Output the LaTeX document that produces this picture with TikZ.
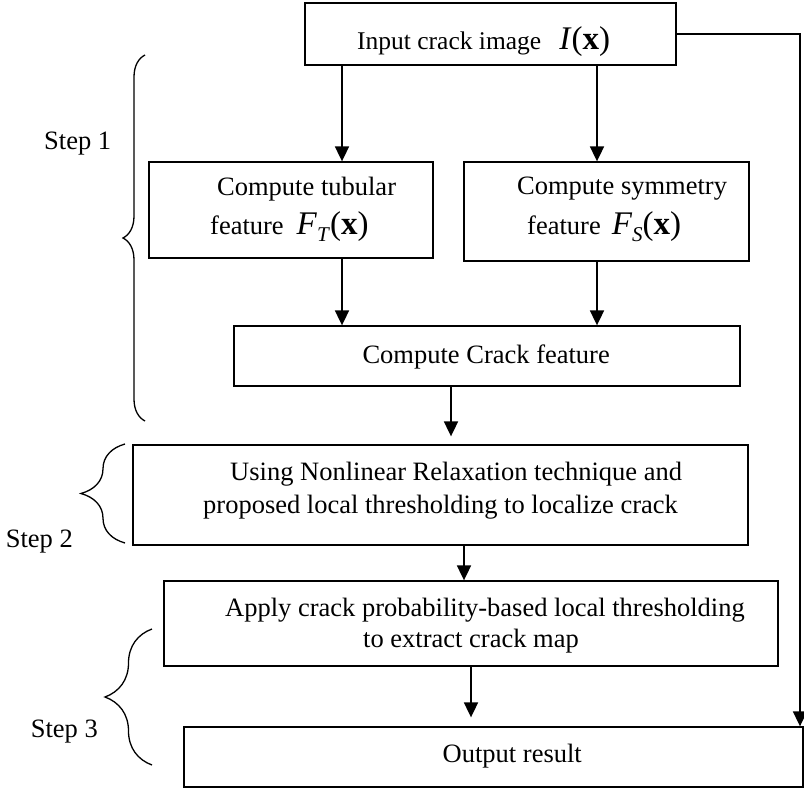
\documentclass[tikz,border=0pt]{standalone}
\usepackage{fontspec}
\setmainfont{Liberation Serif}
\usetikzlibrary{arrows.meta,decorations.pathreplacing}
\newcommand\mymathsz{\fontsize{33}{33}\selectfont}
\newcommand\mysubsz{\fontsize{21}{21}\selectfont}
\newcommand\myIx{{\mymathsz\textit{I}(\textbf{x})}}
\newcommand\myFsub[1]{{\mymathsz\textit{F}\raisebox{-7pt}{\mysubsz\textit{#1}}(\textbf{x})}}
\begin{document}
\begin{tikzpicture}[x=1pt,y=-1pt,
  box/.style={draw, line width=1.3pt, rectangle, inner sep=0pt},
  txt/.style={font=\fontsize{26.5}{31}\selectfont, inner sep=0pt},
  arr/.style={line width=1.8pt, -{Triangle[width=14pt,length=15pt]}},
  brc/.style={line width=1.3pt, decorate, decoration={brace, amplitude=#1}}]
\useasboundingbox (0,0) rectangle (804,789);

% boxes
\node[box, minimum width=371pt, minimum height=62pt] (input)  at (490.5,34) {};
\node[box, minimum width=284pt, minimum height=96pt] (tub)    at (291,210) {};
\node[box, minimum width=285pt, minimum height=99pt] (sym)    at (606.5,211.5) {};
\node[box, minimum width=506pt, minimum height=60pt] (crack)  at (487,356) {};
\node[box, minimum width=615pt, minimum height=100pt] (nonlin) at (440.5,495) {};
\node[box, minimum width=614pt, minimum height=85pt] (apply)  at (471,623.5) {};
\node[box, minimum width=619pt, minimum height=60pt] (out)    at (493.5,757) {};

% texts
\node[txt, anchor=base west, font=\fontsize{25.5}{31}\selectfont] (tinput) at (357,50) {Input crack image\hspace{18pt}\myIx};
\node[txt, anchor=base west] (ttub1) at (217,196) {Compute tubular};
\node[txt, anchor=base west] (ttub2) at (210,234) {feature\hspace{13pt}\myFsub{T}};
\node[txt, anchor=base west] (tsym1) at (517,195) {Compute symmetry};
\node[txt, anchor=base west] (tsym2) at (527,234) {feature\hspace{11pt}\myFsub{S}};
\node[txt, anchor=base east] (tcrack) at (610,363) {Compute Crack feature};
\node[txt, anchor=base west] (tnl1) at (230,480) {Using Nonlinear Relaxation technique and};
\node[txt, anchor=base west] (tnl2) at (203,513) {proposed local thresholding to localize crack};
\node[txt, anchor=base west] (tap1) at (225,616) {Apply crack probability-based local thresholding};
\node[txt, anchor=base west] (tap2) at (363,647) {to extract crack map};
\node[txt, anchor=base east] (tout) at (582,762) {Output result};

% step labels
\node[txt, anchor=base west] (s1) at (44,150) {Step 1};
\node[txt, anchor=base east] (s2) at (73,547) {Step 2};
\node[txt, anchor=base east] (s3) at (98,737) {Step 3};

% braces
\coordinate (b1s) at (145,421); \coordinate (b1e) at (145,55);
\coordinate (b2s) at (125,543); \coordinate (b2e) at (125,444);
\coordinate (b3s) at (152,765); \coordinate (b3e) at (152,629);
\draw[brc=22] (b1s) -- (b1e);
\draw[brc=44] (b2s) -- (b2e);
\draw[brc=47] (b3s) -- (b3e);

% connector x positions
\coordinate (xa) at (342,0);
\coordinate (xb) at (597,0);
\coordinate (xc) at (451,0);
\coordinate (xd) at (464,0);
\coordinate (xe) at (471,0);
\coordinate (xr) at (800,0);

\draw[arr] (xa |- input.south) -- (xa |- tub.north);
\draw[arr] (xb |- input.south) -- (xb |- sym.north);
\draw[arr] (xa |- tub.south) -- (xa |- crack.north);
\draw[arr] (xb |- sym.south) -- (xb |- crack.north);
\draw[arr, shorten >=8pt] (xc |- crack.south) -- (xc |- nonlin.north);
\draw[arr] (xd |- nonlin.south) -- (xd |- apply.north);
\draw[arr, shorten >=9pt] (xe |- apply.south) -- (xe |- out.north);
\draw[arr] (input.east) -- (xr |- input.east) -- (xr |- out.north);
\end{tikzpicture}
\end{document}
